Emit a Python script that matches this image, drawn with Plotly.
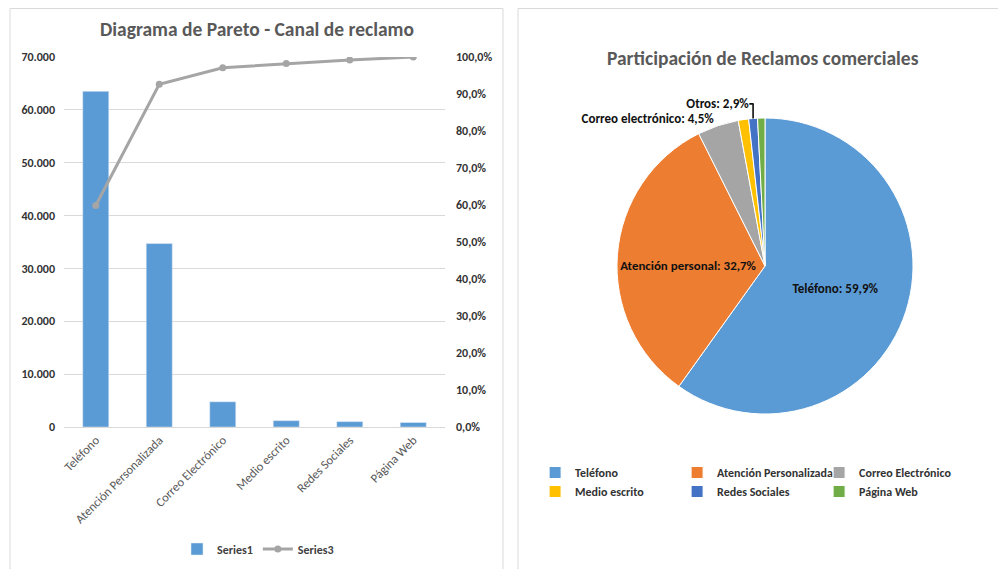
import plotly.graph_objects as go

categories = ["Teléfono", "Atención Personalizada", "Correo Electrónico",
              "Medio escrito", "Redes Sociales", "Página Web"]
reclamos = [63500, 34700, 4770, 1200, 1020, 850]
pie_labels_short = ["Teléfono", "Atención personal", "Correo electrónico", "Otros"]
colors = ["#5B9BD5", "#ED7D31", "#A5A5A5", "#FFC000", "#4472C4", "#70AD47"]

total = sum(reclamos)
cum = []
acc = 0
for v in reclamos:
    acc += v
    cum.append(acc / total)

pct = [v / total * 100 for v in reclamos]
def fmt(p):
    return f"{p:.1f}%".replace(".", ",")
otros = sum(pct[3:])
pie_text = [
    f"{pie_labels_short[0]}: {fmt(pct[0])}",
    f"{pie_labels_short[1]}: {fmt(pct[1])}",
    f"{pie_labels_short[2]}: {fmt(pct[2])}",
    "",
    f"{pie_labels_short[3]}: {fmt(otros)}",
    "",
]

FONT = "Carlito, Lato, sans-serif"
OFF = 8                 # page body margin
W, H = 1006 - OFF, 569 - OFF
R = 45                  # right margin (so legend2 wraps into rows of 3)
GW = W - R

def px_x(p):
    return (p - OFF) / GW
def px_y(p):
    return 1 - (p - OFF) / H

fig = go.Figure()
fig.add_trace(go.Bar(x=categories, y=reclamos, name="Series1",
                     marker_color="#5B9BD5", yaxis="y", legend="legend"))
fig.add_trace(go.Scatter(x=categories, y=cum, name="Series3", yaxis="y2",
                         mode="lines+markers",
                         line=dict(color="#A5A5A5", width=3),
                         marker=dict(color="#A5A5A5", size=7),
                         legend="legend"))
fig.add_trace(go.Pie(labels=categories, values=reclamos, text=pie_text,
                     textinfo="text", sort=False, direction="clockwise",
                     rotation=0,
                     textposition=["inside", "inside", "outside", "outside", "outside", "outside"],
                     insidetextorientation="horizontal",
                     marker=dict(colors=colors, line=dict(color="white", width=1)),
                     textfont=dict(family=FONT, size=13, color="#111111", weight="bold"),
                     domain=dict(x=[px_x(570), px_x(960)], y=[px_y(414), px_y(118)]),
                     legend="legend2", showlegend=True))

fig.update_layout(
    width=W, height=H,
    margin=dict(l=0, r=R, t=0, b=0, autoexpand=False),
    paper_bgcolor="white", plot_bgcolor="white",
    separators=",.",
    font=dict(family=FONT, size=12, color="#404040"),
    bargap=0.59,
    xaxis=dict(domain=[px_x(64), px_x(445)], tickangle=-45,
               tickfont=dict(size=12.5, color="#595959"),
               showline=True, linecolor="#D9D9D9", ticks=""),
    yaxis=dict(domain=[px_y(427), px_y(57)], range=[0, 70000], dtick=10000,
               tickformat=",", showgrid=True, gridcolor="#D9D9D9",
               zeroline=False, ticklabelstandoff=8,
               tickfont=dict(size=12, color="#333333", weight="bold")),
    yaxis2=dict(overlaying="y", side="right", range=[0, 1], dtick=0.1,
                tickformat=".1%", showgrid=False, zeroline=False,
                ticklabelstandoff=10,
                tickfont=dict(size=12, color="#333333", weight="bold")),
    legend=dict(orientation="h", x=px_x(258), xanchor="center",
                y=px_y(549), yanchor="middle", bgcolor="rgba(0,0,0,0)",
                font=dict(size=12, color="#404040", weight="bold")),
    legend2=dict(orientation="h", x=1.0001, xanchor="right",
                 y=px_y(458), yanchor="top", entrywidth=97,
                 bgcolor="rgba(0,0,0,0)",
                 font=dict(size=12, color="#333333", weight="bold")),
    shapes=[
        dict(type="rect", xref="paper", yref="paper",
             x0=px_x(10), x1=px_x(503), y0=px_y(580), y1=px_y(8.5),
             line=dict(color="#D9D9D9", width=1)),
        dict(type="rect", xref="paper", yref="paper",
             x0=px_x(518), x1=px_x(1015), y0=px_y(580), y1=px_y(8.5),
             line=dict(color="#D9D9D9", width=1)),
    ],
    annotations=[
        dict(text="Diagrama de Pareto - Canal de reclamo", xref="paper", yref="paper",
             x=px_x(257), y=px_y(29), xanchor="center", yanchor="middle",
             showarrow=False,
             font=dict(size=19.5, color="#595959", weight="bold")),
        dict(text="Participación de Reclamos comerciales", xref="paper", yref="paper",
             x=px_x(763), y=px_y(58), xanchor="center", yanchor="middle",
             showarrow=False,
             font=dict(size=19.5, color="#595959", weight="bold")),
    ],
)

fig.write_html("out.html")
